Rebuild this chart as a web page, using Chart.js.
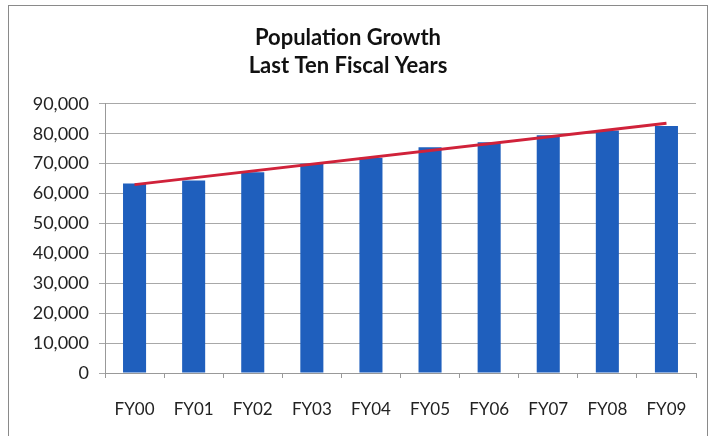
<!DOCTYPE html>
<html>
<head>
<meta charset="utf-8">
<script src="https://cdn.jsdelivr.net/npm/chart.js@4/dist/chart.umd.min.js"></script>
<style>
  body { margin: 0; background: #fff; }
  #box { position: absolute; left: 0; top: 0; width: 711px; height: 436px; }
  #frame { position: absolute; left: 8px; top: 5px; width: 700px; height: 440px; border: 1px solid #8a8a8a; box-sizing: border-box; }
</style>
</head>
<body>
<div id="frame"></div>
<div id="box"><canvas id="popChart"></canvas></div>
<script>
  const years = ['FY00', 'FY01', 'FY02', 'FY03', 'FY04', 'FY05', 'FY06', 'FY07', 'FY08', 'FY09'];

  const population = [63400, 64400, 67100, 70000, 72000, 75500, 77200, 79500, 81100, 82600];

  // trend line, only the two ends
  const trend = [63000, null, null, null, null, null, null, null, null, 83500];

  const yTicks = { min: 0, max: 90000, step: 10000 };

  const chartFont = "Lato, 'Open Sans', sans-serif";

  var ctx = document.getElementById('popChart');
  var chart = new Chart(ctx, {
    type: 'bar',
    data: {
      labels: years,
      datasets: [
        {
          type: 'line',
          label: 'Trend',
          data: trend,
          spanGaps: true,
          borderColor: '#d0223a',
          borderWidth: 3,
          pointRadius: 0,
          order: 0
        },
        {
          type: 'bar',
          label: 'Population',
          data: population,
          backgroundColor: '#1f5fbd',
          categoryPercentage: 1,
          barPercentage: 0.39,
          order: 1
        }
      ]
    },
    options: {
      responsive: true,
      maintainAspectRatio: false,
      animation: false,
      layout: { padding: { left: 0, right: 15, top: 0, bottom: 0 } },
      plugins: {
        legend: { display: false },
        tooltip: { enabled: false },
        title: {
          display: true,
          text: ['Population Growth', 'Last Ten Fiscal Years'],
          color: '#111',
          font: { family: chartFont, size: 22, weight: 'bold', lineHeight: 1.27 },
          padding: { top: 24, bottom: 24 }
        }
      },
      scales: {
        x: {
          grid: { display: true, drawOnChartArea: false, color: '#999', tickLength: 5 },
          border: { display: true, color: '#999' },
          ticks: { color: '#222', padding: 21, font: { family: chartFont, size: 17 } },
          afterFit: function(scale) { scale.height = 63; }
        },
        y: {
          min: yTicks.min,
          max: yTicks.max,
          grid: { color: '#a8a8a8', tickLength: 6 },
          border: { display: true, color: '#999' },
          ticks: {
            stepSize: yTicks.step,
            color: '#222',
            padding: 10,
            font: { family: chartFont, size: 18 },
            callback: function(v) { return v.toLocaleString('en-US'); }
          },
          afterFit: function(scale) { scale.width = 105; }
        }
      }
    }
  });
</script>
</body>
</html>
